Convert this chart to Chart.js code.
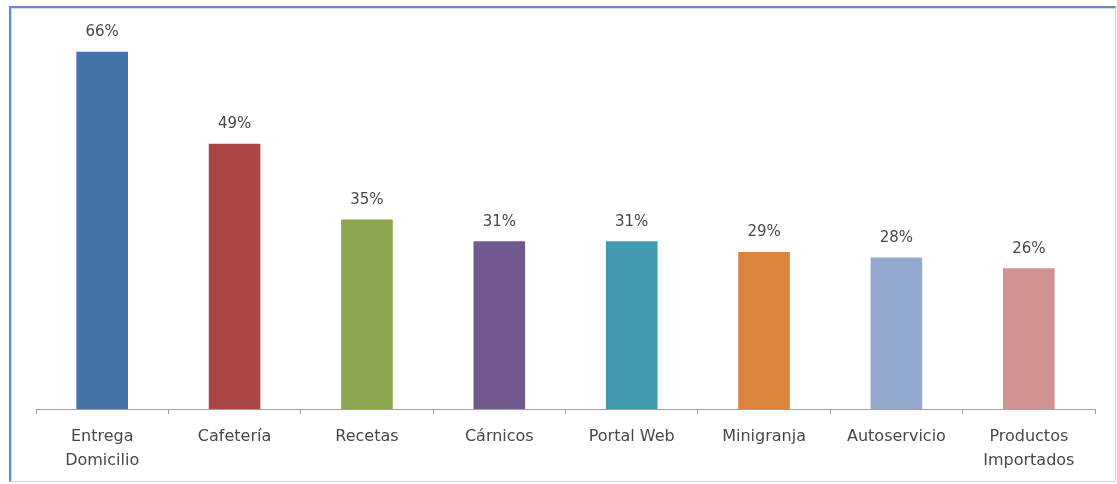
<!DOCTYPE html>
<html lang="es">
<head>
  <meta charset="UTF-8">
  <title>Servicios preferidos</title>
  <script src="https://cdn.jsdelivr.net/npm/chart.js"></script>
  <style>
    html, body {
      margin: 0;
      padding: 0;
      background: #fff;
    }
    #wrap {
      position: relative;
      width: 1117px;
      height: 484px;
    }
    /* chart frame: blue top/left edge, light grey right/bottom */
    #frame {
      position: absolute;
      left: 9px;
      top: 6px;
      width: 1104px;
      height: 473px;
      border-top: 2px solid #5b8fd0;
      border-left: 2px solid #5b8fd0;
      border-right: 1px solid #d4d4d4;
      border-bottom: 1px solid #d4d4d4;
      box-shadow: inset 1px 1px 0 #d8d8d8;
    }
    canvas {
      position: absolute;
      left: 0;
      top: 0;
    }
  </style>
</head>
<body>
  <div id="wrap">
    <div id="frame"></div>
    <canvas id="chart" width="1117" height="484"></canvas>
  </div>

  <script>
    // Categories and percentages
    var categories = [
      ['Entrega', 'Domicilio'],
      'Cafetería',
      'Recetas',
      'Cárnicos',
      'Portal Web',
      'Minigranja',
      'Autoservicio',
      ['Productos', 'Importados']
    ];
    var percentages = [66, 49, 35, 31, 31, 29, 28, 26];
    var barColors = ['#4572A7', '#AA4643', '#89A54E', '#71588F', '#4198AF', '#DB843D', '#93A9CF', '#D19392'];

    var fontFamily = '"DejaVu Sans", sans-serif';
    var textColor = '#474747';

    // Writes the percentage above each bar
    var valueLabels = {
      id: 'valueLabels',
      afterDatasetsDraw: function(chart) {
        var ctx = chart.ctx;
        var meta = chart.getDatasetMeta(0);
        ctx.save();
        ctx.font = '15px ' + fontFamily;
        ctx.fillStyle = textColor;
        ctx.textAlign = 'center';
        ctx.textBaseline = 'bottom';
        meta.data.forEach(function(bar, i) {
          ctx.fillText(percentages[i] + '%', bar.x, bar.y - 12);
        });
        ctx.restore();
      }
    };

    var ctx = document.getElementById('chart').getContext('2d');
    new Chart(ctx, {
      type: 'bar',
      data: {
        labels: categories,
        datasets: [{
          data: percentages,
          backgroundColor: barColors,
          borderWidth: 0,
          categoryPercentage: 1,
          barPercentage: 0.39
        }]
      },
      options: {
        responsive: false,
        animation: false,
        layout: {
          padding: { left: 36, right: 22, top: 30, bottom: 0 }
        },
        plugins: {
          legend: { display: false },
          tooltip: { enabled: false }
        },
        scales: {
          x: {
            grid: {
              display: true,
              drawOnChartArea: false,
              drawTicks: true,
              tickLength: 5,
              color: '#a0a0a0'
            },
            border: { display: true, color: '#a0a0a0', width: 1 },
            ticks: {
              color: textColor,
              font: { family: fontFamily, size: 16, lineHeight: 1.55 },
              padding: 10,
              maxRotation: 0,
              autoSkip: false
            },
            afterFit: function(scale) {
              scale.height = 75;
            }
          },
          y: {
            display: false,
            min: 0,
            max: 70
          }
        }
      },
      plugins: [valueLabels]
    });
  </script>
</body>
</html>
